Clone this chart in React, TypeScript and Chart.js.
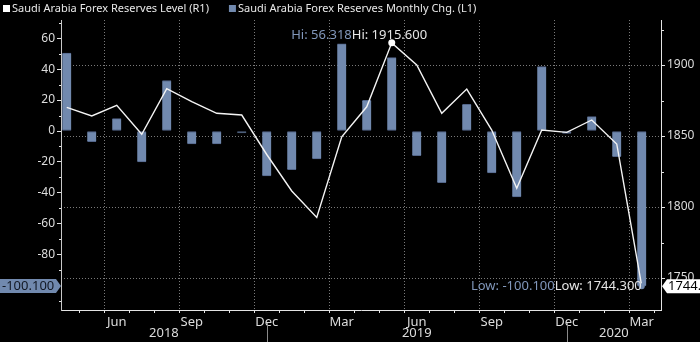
import { useEffect, useRef } from 'react';
import { Chart, registerables } from 'chart.js';

Chart.register(...registerables);

// ---- data ----
const monthLabels = ['Apr', 'May', 'Jun', 'Jul', 'Aug', 'Sep', 'Oct', 'Nov', 'Dec', 'Jan', 'Feb', 'Mar',
  'Apr', 'May', 'Jun', 'Jul', 'Aug', 'Sep', 'Oct', 'Nov', 'Dec', 'Jan', 'Feb', 'Mar'];
const shownMonths = ['Jun', 'Sep', 'Dec', 'Mar'];
const yearLabels = ['2018', '2019', '2020'];
const yearBreakIndex = [8, 20];

const levelR1 = [1870.2, 1864.1, 1871.6, 1851.2, 1883.3, 1874.2, 1866.0, 1864.8, 1837.0, 1811.3, 1792.7, 1849.5,
  1870.6, 1915.6, 1900.0, 1866.0, 1883.1, 1854.2, 1813.2, 1854.2, 1852.6, 1861.3, 1844.4, 1744.3];
const monthlyChgL1 = [50.4, -6.9, 8.0, -20.0, 32.6, -8.4, -8.4, -1.2, -29.0, -25.0, -18.0, 56.318,
  19.8, 47.4, -15.9, -33.4, 17.3, -27.1, -42.5, 41.6, -1.5, 9.3, -16.6, -100.1];

const leftTickValues = [-110, -100, -90, -80, -70, -60, -50, -40, -30, -20, -10, 0, 10, 20, 30, 40, 50, 60, 70];
const leftLabels = [-80, -60, -40, -20, 0, 20, 40, 60];
const rightTickValues = [1750, 1775, 1800, 1825, 1850, 1875, 1900, 1925];
const rightLabels = [1750, 1800, 1850, 1900];

const legendLevel = 'Saudi Arabia Forex Reserves Level (R1)';
const legendChg = 'Saudi Arabia Forex Reserves Monthly Chg. (L1)';

const FONT = '"Noto Sans", "DejaVu Sans", sans-serif';
const BAR = '#7189ae';
const BAR_TEXT = '#8197bb';
const TEXT = '#dcdcdc';
const GRID = '#7a7a7a';
const AXIS = '#e4e4e4';

export default function App() {
  const ref = useRef<HTMLCanvasElement | null>(null);

  useEffect(() => {
    document.body.style.margin = '0';
    document.body.style.background = '#000';
    const canvas = ref.current;
    if (!canvas) return;

    const hiBar = monthlyChgL1.indexOf(Math.max(...monthlyChgL1));
    const loBar = monthlyChgL1.indexOf(Math.min(...monthlyChgL1));
    const hiLine = levelR1.indexOf(Math.max(...levelR1));
    const loLine = levelR1.indexOf(Math.min(...levelR1));

    const bgPlugin = {
      id: 'bg',
      beforeDraw(chart: any) {
        const c = chart.ctx;
        c.save();
        c.fillStyle = '#000';
        c.fillRect(0, 0, chart.width, chart.height);
        c.restore();
      },
    };

    const overlay = {
      id: 'overlay',
      afterDraw(chart: any) {
        const c = chart.ctx as CanvasRenderingContext2D;
        const ca = chart.chartArea;
        const xs = chart.scales.x;
        const yl = chart.scales.y;
        const yr = chart.scales.y1;
        c.save();

        // minor ticks
        c.strokeStyle = AXIS;
        c.lineWidth = 1;
        leftTickValues.filter(v => !leftLabels.includes(v) && v !== -100).forEach(v => {
          const py = Math.round(yl.getPixelForValue(v)) + 0.5;
          c.beginPath(); c.moveTo(ca.left - 2, py); c.lineTo(ca.left, py); c.stroke();
        });
        rightTickValues.filter(v => !rightLabels.includes(v)).forEach(v => {
          const py = Math.round(yr.getPixelForValue(v)) + 0.5;
          c.beginPath(); c.moveTo(ca.right, py); c.lineTo(ca.right + 3, py); c.stroke();
        });

        // year labels + separators
        const breaks = [ca.left, ...yearBreakIndex.map(i => xs.getPixelForValue(i)), ca.right];
        c.font = `13px ${FONT}`;
        c.fillStyle = TEXT;
        c.textAlign = 'center';
        c.textBaseline = 'middle';
        yearLabels.forEach((t, i) => {
          c.fillText(t, (breaks[i] + breaks[i + 1]) / 2, 333);
        });
        c.strokeStyle = '#8a8a8a';
        yearBreakIndex.forEach(i => {
          const px = Math.round(xs.getPixelForValue(i)) + 0.5;
          c.beginPath(); c.moveTo(px, 323); c.lineTo(px, chart.height); c.stroke();
        });

        // legend
        c.font = `11px ${FONT}`;
        c.textAlign = 'left';
        c.textBaseline = 'middle';
        c.fillStyle = '#ffffff';
        c.fillRect(3, 5, 7, 7);
        c.fillStyle = '#e8e8e8';
        c.fillText(legendLevel, 12, 9);
        const w1 = c.measureText(legendLevel).width;
        const sx = 12 + w1 + 20;
        c.fillStyle = BAR;
        c.fillRect(sx, 5, 7, 7);
        c.fillStyle = '#e8e8e8';
        c.fillText(legendChg, sx + 9, 9);

        // Hi annotations
        c.font = `13px ${FONT}`;
        const hx = xs.getPixelForValue(hiBar) + 10;
        const hy = yl.getPixelForValue(monthlyChgL1[hiBar]) - 9;
        c.textAlign = 'right';
        c.fillStyle = BAR_TEXT;
        c.fillText(`Hi: ${monthlyChgL1[hiBar].toFixed(3)}`, hx, hy);
        c.textAlign = 'left';
        c.fillStyle = '#e6e6e6';
        c.fillText(`Hi: ${levelR1[hiLine].toFixed(3)}`, hx, hy);

        // Low annotations
        const lx = xs.getPixelForValue(loLine);
        const ly = yr.getPixelForValue(levelR1[loLine]);
        const lowLine = `Low: ${levelR1[loLine].toFixed(3)}`;
        c.textAlign = 'right';
        c.fillStyle = '#e6e6e6';
        c.fillText(lowLine, lx, ly);
        const wl = c.measureText(lowLine).width;
        c.fillStyle = BAR_TEXT;
        c.fillText(`Low: ${monthlyChgL1[loBar].toFixed(3)}`, lx - wl, ly);

        // left value box
        const by = yl.getPixelForValue(monthlyChgL1[monthlyChgL1.length - 1]);
        c.fillStyle = BAR;
        c.beginPath();
        c.moveTo(0, by - 7); c.lineTo(ca.left - 5, by - 7); c.lineTo(ca.left, by);
        c.lineTo(ca.left - 5, by + 7); c.lineTo(0, by + 7); c.closePath(); c.fill();
        c.fillStyle = '#121824';
        c.textAlign = 'left';
        c.fillText(monthlyChgL1[monthlyChgL1.length - 1].toFixed(3), 2, by + 0.5);

        // right value box
        const ry = yr.getPixelForValue(levelR1[levelR1.length - 1]);
        c.fillStyle = '#ffffff';
        c.beginPath();
        c.moveTo(ca.right + 1, ry); c.lineTo(ca.right + 6, ry - 7); c.lineTo(chart.width, ry - 7);
        c.lineTo(chart.width, ry + 7); c.lineTo(ca.right + 6, ry + 7); c.closePath(); c.fill();
        c.fillStyle = '#000';
        c.fillText(levelR1[levelR1.length - 1].toFixed(3), ca.right + 7, ry + 0.5);

        c.restore();
      },
    };

    const chart = new Chart(canvas, {
      type: 'bar',
      data: {
        datasets: [
          {
            type: 'line',
            label: legendLevel,
            data: levelR1.map((v, i) => ({ x: i, y: v })),
            yAxisID: 'y1',
            borderColor: '#f4f4f4',
            borderWidth: 1.4,
            tension: 0,
            pointRadius: (ctx: any) => (ctx.dataIndex === hiLine ? 3.5 : ctx.dataIndex === loLine ? 3 : 0),
            pointBackgroundColor: (ctx: any) => (ctx.dataIndex === loLine ? BAR : '#ffffff'),
            pointBorderWidth: 0,
            order: 0,
          } as any,
          {
            type: 'bar',
            label: legendChg,
            data: monthlyChgL1.map((v, i) => ({ x: i, y: v })),
            yAxisID: 'y',
            backgroundColor: BAR,
            borderColor: '#53668a',
            borderWidth: { top: 1, bottom: 1, left: 0, right: 0 },
            borderSkipped: false,
            barThickness: 9,
            order: 1,
          } as any,
        ],
      },
      options: {
        responsive: false,
        animation: false,
        layout: { padding: { top: 20, left: 0, right: 0, bottom: 0 } },
        plugins: { legend: { display: false }, tooltip: { enabled: false } },
        scales: {
          x: {
            type: 'linear',
            min: -0.23,
            max: 23.77,
            offset: false,
            afterBuildTicks: (s: any) => { s.ticks = monthLabels.map((_, i) => ({ value: i })); },
            afterFit: (s: any) => { s.height = 32; },
            ticks: {
              autoSkip: false,
              maxRotation: 0,
              color: TEXT,
              padding: 1,
              font: { family: FONT, size: 13 },
              callback: (v: any) => (shownMonths.includes(monthLabels[v]) ? monthLabels[v] : ''),
            },
            grid: {
              drawOnChartArea: true,
              color: (ctx: any) => (ctx.tick && shownMonths.includes(monthLabels[ctx.tick.value]) ? GRID : 'rgba(0,0,0,0)'),
              tickColor: AXIS,
              tickLength: 3,
              lineWidth: 1,
            },
            border: { display: true, color: AXIS, width: 1, dash: [1, 2] },
          },
          y: {
            type: 'linear',
            position: 'left',
            min: -115.6,
            max: 71.7,
            afterBuildTicks: (s: any) => { s.ticks = leftTickValues.map(v => ({ value: v })); },
            afterFit: (s: any) => { s.width = 61; },
            ticks: {
              autoSkip: false,
              color: TEXT,
              padding: 2,
              font: { family: FONT, size: 12 },
              callback: (v: any) => (leftLabels.includes(v) ? String(v) : ''),
            },
            grid: {
              drawOnChartArea: false,
              tickLength: 4,
              tickColor: (ctx: any) => (ctx.tick && leftLabels.includes(ctx.tick.value) ? AXIS : 'rgba(0,0,0,0)'),
            },
            border: { display: true, color: '#c8c8c8', width: 1 },
          },
          y1: {
            type: 'linear',
            position: 'right',
            min: 1727.5,
            max: 1931.7,
            afterBuildTicks: (s: any) => { s.ticks = rightTickValues.map(v => ({ value: v })); },
            afterFit: (s: any) => { s.width = 39; },
            ticks: {
              autoSkip: false,
              color: TEXT,
              padding: 2,
              font: { family: FONT, size: 12 },
              callback: (v: any) => (rightLabels.includes(v) ? String(v) : ''),
            },
            grid: {
              drawOnChartArea: true,
              color: (ctx: any) => (ctx.tick && rightLabels.includes(ctx.tick.value) ? GRID : 'rgba(0,0,0,0)'),
              tickLength: 4,
              tickColor: (ctx: any) => (ctx.tick && rightLabels.includes(ctx.tick.value) ? AXIS : 'rgba(0,0,0,0)'),
            },
            border: { display: true, color: AXIS, width: 1, dash: [1, 2] },
          },
        },
      },
      plugins: [bgPlugin, overlay],
    } as any);

    return () => chart.destroy();
  }, []);

  return (
    <div style={{ width: 700, height: 342, background: '#000' }}>
      <canvas ref={ref} width={700} height={342} style={{ display: 'block' }} />
    </div>
  );
}
